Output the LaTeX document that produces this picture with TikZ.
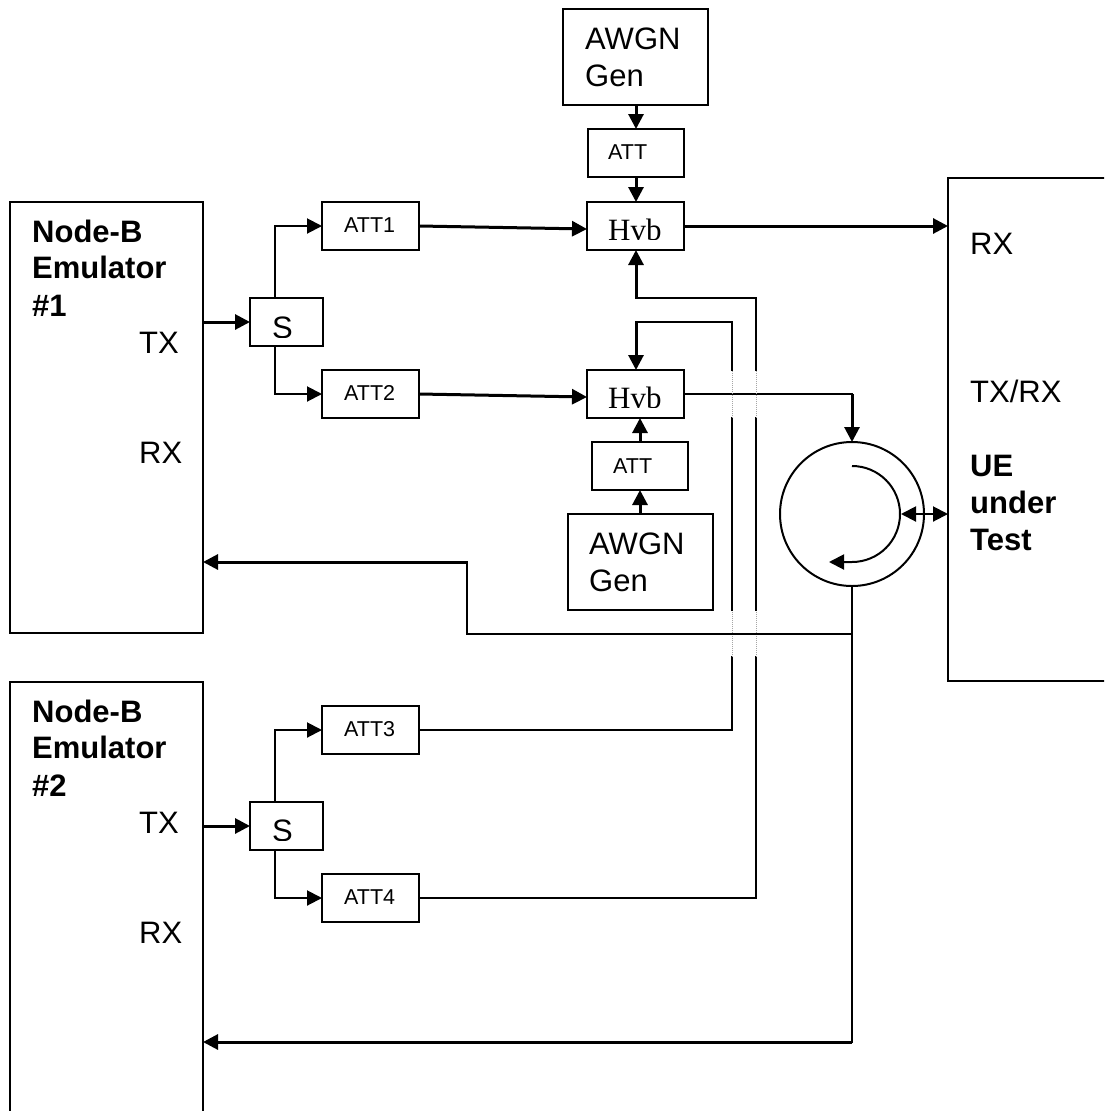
\documentclass[tikz,border=0pt]{standalone}
\usepackage{fontspec}
\setmainfont{Liberation Sans}
\newfontfamily\serifhyb{Liberation Serif}
\usetikzlibrary{arrows.meta}
\tikzset{
  x=1pt,y=-1pt,
  boxshape/.style={draw=black,line width=2pt,fill=white,outer sep=0pt,inner sep=0pt,anchor=north west},
  bigbox/.style={boxshape,minimum width=145pt,minimum height=96pt},
  attbox/.style={boxshape,minimum width=96pt,minimum height=48pt},
  sbox/.style={boxshape,minimum width=73pt,minimum height=48pt},
  txtbig/.style={anchor=base west,inner sep=0pt,font=\fontsize{31}{37}\selectfont},
  txtbold/.style={anchor=base west,inner sep=0pt,font=\fontsize{31}{37}\selectfont\bfseries},
  txtsmall/.style={anchor=base west,inner sep=0pt,font=\fontsize{21.5}{25}\selectfont},
  txthyb/.style={anchor=base west,inner sep=0pt,font=\serifhyb\fontsize{31}{37}\selectfont},
  wire/.style={draw=black,line width=2pt,line join=miter,line cap=rect},
  thickwire/.style={draw=black,line width=3pt,line join=miter},
  tip/.style={-{Triangle[length=15pt,width=15pt]}},
  bitip/.style={{Triangle[length=15pt,width=15pt]}-{Triangle[length=15pt,width=15pt]}},
  faint/.style={draw=gray!70,line width=1pt,densely dotted},
}
\begin{document}
\begin{tikzpicture}
\useasboundingbox (0,0) rectangle (1104,1111);
\clip (0,0) rectangle (1104,1111);
\fill[white] (0,0) rectangle (1104,1111);

% boxes
\node[boxshape,minimum width=193pt,minimum height=431pt] (nb1) at (10,202) {};
\node[boxshape,minimum width=193pt,minimum height=460pt] (nb2) at (10,682) {};
\node[boxshape,minimum width=190pt,minimum height=503pt] (ue) at (948,178) {};
\node[bigbox] (awgn1) at (563,9) {};
\node[attbox] (att5) at (588,129) {};
\node[attbox,minimum width=97pt] (hyb1) at (587,202) {};
\node[attbox,minimum width=97pt] (hyb2) at (587,370) {};
\node[attbox] (att6) at (592,442) {};
\node[bigbox] (awgn2) at (568,514) {};
\node[sbox] (s1) at (250,298) {};
\node[sbox] (s2) at (250,802) {};
\node[attbox,minimum width=97pt] (att1) at (322,202) {};
\node[attbox,minimum width=97pt] (att2) at (322,370) {};
\node[attbox,minimum width=97pt] (att3) at (322,706) {};
\node[attbox,minimum width=97pt] (att4) at (322,874) {};
\node[circle,draw=black,line width=2pt,minimum size=144pt,inner sep=0pt,outer sep=0pt] (circ) at (852,514) {};

% labels
\node[txtbold] (t1a) at (32,242) {Node-B};
\node[txtbold] (t1b) at (32,278) {Emulator};
\node[txtbold] (t1c) at (32,316) {\#1};
\node[txtbig] (t1d) at (139,353) {TX};
\node[txtbig] (t1e) at (139,463) {RX};
\node[txtbold] (t2a) at (32,722) {Node-B};
\node[txtbold] (t2b) at (32,758) {Emulator};
\node[txtbold] (t2c) at (32,796) {\#2};
\node[txtbig] (t2d) at (139,833) {TX};
\node[txtbig] (t2e) at (139,943) {RX};
\node[txtbig] (u1) at (970,254) {RX};
\node[txtbig] (u2) at (970,402) {TX/RX};
\node[txtbold] (u3) at (970,476) {UE};
\node[txtbold] (u4) at (970,513) {under};
\node[txtbold] (u5) at (970,550) {Test};
\node[txtbig] (g1a) at (585,49) {AWGN};
\node[txtbig] (g1b) at (585,86) {Gen};
\node[txtbig] (g2a) at (589,554) {AWGN};
\node[txtbig] (g2b) at (589,591) {Gen};
\node[txtsmall] (la5) at (608,159) {ATT};
\node[txtsmall] (la6) at (613,473) {ATT};
\node[txtsmall] (la1) at (344,232) {ATT1};
\node[txtsmall] (la2) at (344,400) {ATT2};
\node[txtsmall] (la3) at (344,736) {ATT3};
\node[txtsmall] (la4) at (344,904) {ATT4};
% labels whose feet are cut off, as in the reference
\begin{scope}
  \clip (260,300) rectangle (310,337);
  \node[txtbig] (ls1) at (272,338) {S};
\end{scope}
\begin{scope}
  \clip (260,804) rectangle (310,840);
  \node[txtbig] (ls2) at (272,841) {S};
\end{scope}
\begin{scope}
  \clip (600,204) rectangle (675,239);
  \node[txthyb] (lh1) at (608,240) {Hvb};
\end{scope}
\begin{scope}
  \clip (600,372) rectangle (675,407);
  \node[txthyb] (lh2) at (608,408) {Hvb};
\end{scope}

% junctions
\coordinate (a1) at (636,129);
\coordinate (a2) at (640,442);
\coordinate (j1) at (275,226);
\coordinate (j2) at (275,394);
\coordinate (j3) at (275,730);
\coordinate (j4) at (275,898);
\coordinate (r1) at (636,298);
\coordinate (r1b) at (756,298);
\coordinate (r2) at (636,322);
\coordinate (r2b) at (732,322);
\coordinate (g1t) at (732,370);
\coordinate (g1b) at (732,418);
\coordinate (g2t) at (732,610);
\coordinate (g2b) at (732,657);
\coordinate (g3t) at (756,370);
\coordinate (g3b) at (756,418);
\coordinate (g4t) at (756,610);
\coordinate (g4b) at (756,657);
\coordinate (e3) at (732,730);
\coordinate (e4) at (756,898);
\coordinate (o2) at (852,394);
\coordinate (d1) at (852,634);
\coordinate (d2) at (852,1042);
\coordinate (k1) at (467,634);
\coordinate (k2) at (467,562);
\coordinate (in1) at (203,322);
\coordinate (in2) at (203,826);
\coordinate (h1i) at (587,229);
\coordinate (h2i) at (587,397);
\coordinate (arcs) at (852,466);
\coordinate (arce) at (852,562);
\coordinate (arct) at (829,562);
\coordinate (ri) at (901,514);

% top and bottom noise chains
\draw[thickwire,tip] (awgn1.south -| a1) -- (a1);
\draw[thickwire,tip] (att5.south -| a1) -- (hyb1.north -| a1);
\draw[thickwire,tip] (awgn2.north -| a2) -- (att6.south -| a2);
\draw[thickwire,tip] (a2) -- (hyb2.south -| a2);

% TX to splitters
\draw[thickwire,tip] (in1) -- (s1.west |- in1);
\draw[thickwire,tip] (in2) -- (s2.west |- in2);

% splitters to attenuators
\draw[wire,tip] (s1.north -| j1) -- (j1) -- (att1.west |- j1);
\draw[wire,tip] (s1.south -| j2) -- (j2) -- (att2.west |- j2);
\draw[wire,tip] (s2.north -| j3) -- (j3) -- (att3.west |- j3);
\draw[wire,tip] (s2.south -| j4) -- (j4) -- (att4.west |- j4);

% attenuators to hybrids
\draw[thickwire,tip] (att1.east) -- (h1i);
\draw[thickwire,tip] (att2.east) -- (h2i);

% hybrid outputs
\draw[thickwire,tip] (hyb1.east) -- (ue.west |- hyb1.east);
\draw[wire] (hyb2.east) -- (o2);
\draw[thickwire,tip] (o2) -- (circ.north);

% long cross-feeds
\draw[wire] (att3.east |- e3) -- (e3) -- (g2b);
\draw[faint] (g2b) -- (g2t);
\draw[wire] (g2t) -- (g1b);
\draw[faint] (g1b) -- (g1t);
\draw[wire] (g1t) -- (r2b) -- (r2);
\draw[thickwire,tip] (r2) -- (hyb2.north -| r2);
\draw[wire] (att4.east |- e4) -- (e4) -- (g4b);
\draw[faint] (g4b) -- (g4t);
\draw[wire] (g4t) -- (g3b);
\draw[faint] (g3b) -- (g3t);
\draw[wire] (g3t) -- (r1b) -- (r1);
\draw[thickwire,tip] (r1) -- (hyb1.south -| r1);

% circulator
\draw[line width=2pt,-{Triangle[length=15pt,width=15pt]}] (arcs) arc[start angle=-90,end angle=90,radius=48] -- (arct);
\draw[wire,bitip] (ri) -- (ue.west |- ri);

% returns
\draw[wire] (circ.south) -- (d2);
\draw[thickwire,tip] (d2) -- (nb2.east |- d2);
\draw[wire] (d1) -- (k1) -- (k2);
\draw[thickwire,tip] (k2) -- (nb1.east |- k2);
\end{tikzpicture}
\end{document}
